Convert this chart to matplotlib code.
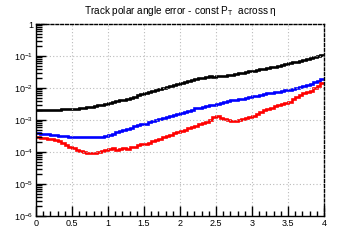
import numpy as np
import matplotlib
matplotlib.use("Agg")
import matplotlib.pyplot as plt
from matplotlib.ticker import LogLocator, MultipleLocator, FixedLocator, NullFormatter

plt.rcParams['font.family'] = ['Liberation Sans', 'DejaVu Sans']
plt.rcParams['mathtext.fontset'] = 'custom'
plt.rcParams['mathtext.rm'] = 'Liberation Sans'
plt.rcParams['mathtext.it'] = 'Liberation Sans:italic'

# bin edges in eta (0 .. 4, width 0.05)
eta_edges = [round(0.05 * i, 2) for i in range(81)]

# log10 of the polar angle error per bin
black_log10 = [-2.69, -2.69, -2.69, -2.69, -2.68, -2.68, -2.68, -2.67, -2.67, -2.67,
               -2.66, -2.65, -2.63, -2.62, -2.60, -2.58, -2.56, -2.54, -2.52, -2.49,
               -2.47, -2.44, -2.42, -2.39, -2.36, -2.33, -2.30, -2.27, -2.22, -2.19,
               -2.16, -2.13, -2.10, -2.06, -2.03, -1.99, -1.96, -1.93, -1.90, -1.87,
               -1.84, -1.81, -1.78, -1.75, -1.72, -1.70, -1.68, -1.66, -1.63, -1.66,
               -1.64, -1.61, -1.63, -1.59, -1.58, -1.56, -1.53, -1.52, -1.50, -1.48,
               -1.46, -1.44, -1.42, -1.40, -1.37, -1.35, -1.33, -1.30, -1.28, -1.25,
               -1.23, -1.20, -1.18, -1.15, -1.13, -1.10, -1.07, -1.04, -1.01, -0.98]
blue_log10 = [-3.42, -3.43, -3.44, -3.45, -3.46, -3.47, -3.49, -3.50, -3.51, -3.52,
              -3.53, -3.53, -3.53, -3.53, -3.53, -3.53, -3.53, -3.53, -3.52, -3.50,
              -3.48, -3.43, -3.39, -3.35, -3.31, -3.27, -3.24, -3.20, -3.17, -3.13,
              -3.11, -3.07, -3.03, -3.00, -2.97, -2.93, -2.90, -2.87, -2.84, -2.81,
              -2.78, -2.75, -2.72, -2.69, -2.64, -2.62, -2.59, -2.57, -2.54, -2.52,
              -2.50, -2.47, -2.44, -2.41, -2.39, -2.37, -2.35, -2.33, -2.30, -2.28,
              -2.26, -2.24, -2.22, -2.19, -2.17, -2.15, -2.13, -2.11, -2.09, -2.07,
              -2.05, -2.02, -1.99, -1.96, -1.93, -1.90, -1.86, -1.82, -1.77, -1.71]
red_log10 = [-3.54, -3.55, -3.57, -3.58, -3.60, -3.62, -3.66, -3.71, -3.77, -3.83,
             -3.88, -3.93, -3.98, -4.01, -4.02, -4.02, -4.02, -4.00, -3.97, -3.93,
             -3.92, -3.89, -3.94, -3.90, -3.86, -3.91, -3.83, -3.85, -3.79, -3.76,
             -3.74, -3.71, -3.66, -3.62, -3.58, -3.54, -3.50, -3.46, -3.42, -3.38,
             -3.35, -3.30, -3.26, -3.22, -3.18, -3.14, -3.08, -3.05, -3.00, -2.90,
             -2.87, -2.93, -2.97, -3.00, -3.02, -3.03, -3.01, -2.98, -2.95, -2.91,
             -2.88, -2.82, -2.76, -2.70, -2.65, -2.61, -2.56, -2.53, -2.51, -2.48,
             -2.43, -2.35, -2.27, -2.21, -2.16, -2.12, -2.08, -2.01, -1.94, -1.85]

x_ticks = [0, 0.5, 1, 1.5, 2, 2.5, 3, 3.5, 4]
x_tick_labels = ['0', '0.5', '1', '1.5', '2', '2.5', '3', '3.5', '4']
y_ticks = [1e-6, 1e-5, 1e-4, 1e-3, 1e-2, 1e-1, 1]
y_tick_labels = ['$10^{-6}$', '$10^{-5}$', '$10^{-4}$', '$10^{-3}$', '$10^{-2}$', '$10^{-1}$', '1']

title = 'Track polar angle error - const P$_{\\mathrm{T}}$  across η'

fig = plt.figure(figsize=(3.6, 2.4), dpi=100)
ax = fig.add_axes([0.1, 0.1, 0.8, 0.8])

for vals, col in [(black_log10, 'black'), (blue_log10, '#0000ff'), (red_log10, '#ff0000')]:
    ax.stairs(10 ** np.array(vals), eta_edges, color=col, linewidth=1.9, baseline=None)

ax.set_yscale('log')
ax.set_xlim(0, 4)
ax.set_ylim(1e-6, 1)

ax.set_xticks(x_ticks)
ax.set_xticklabels(x_tick_labels)
ax.xaxis.set_minor_locator(MultipleLocator(0.1))
ax.yaxis.set_major_locator(FixedLocator(y_ticks))
ax.set_yticklabels(y_tick_labels)
ax.yaxis.set_minor_locator(LogLocator(base=10, subs=np.arange(2, 10)))
ax.yaxis.set_minor_formatter(NullFormatter())

ax.tick_params(which='both', direction='in', top=False, right=False, labelsize=6.5, pad=2)
ax.tick_params(axis='y', which='major', length=7, width=1)
ax.tick_params(axis='y', which='minor', length=4, width=1)
ax.tick_params(axis='x', which='major', length=7, width=1)
ax.tick_params(axis='x', which='minor', length=3.5, width=1)

ax.grid(True, which='major', color='#bbbbbb', linestyle=(0, (1, 2)), linewidth=0.8)
for s in ['top', 'right']:
    ax.spines[s].set_linestyle((0, (2, 1.5)))
    ax.spines[s].set_linewidth(1)
for s in ['left', 'bottom']:
    ax.spines[s].set_linewidth(1)

fig.text(0.5, 0.955, title, ha='center', va='center', fontsize=7.2)

fig.savefig('out.png', dpi=100)
